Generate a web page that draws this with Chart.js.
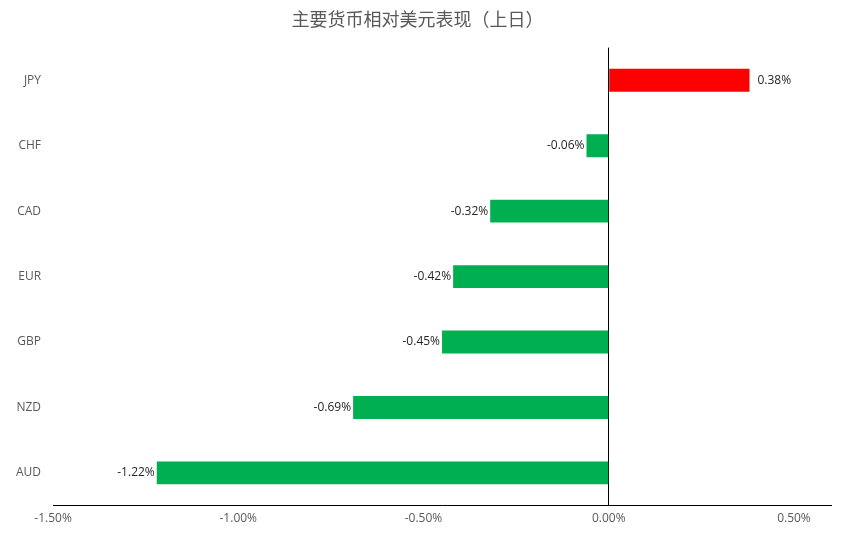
<!DOCTYPE html>
<html><head><meta charset="utf-8">
<script src="https://cdn.jsdelivr.net/npm/chart.js@4"></script>
<style>html,body{margin:0;padding:0;background:#fff}#w{width:864px;height:538px}</style>
</head><body><div id="w"><canvas id="c"></canvas></div>
<script>
const categories = ["JPY","CHF","CAD","EUR","GBP","NZD","AUD"];
const values = [0.38,-0.06,-0.32,-0.42,-0.45,-0.69,-1.22];
const colors = values.map(v => v >= 0 ? "#FF0000" : "#00B050");
const tickValues = [-1.5,-1.0,-0.5,0,0.5];

const labelPlugin = {
  id: "lbl",
  afterDatasetsDraw(chart) {
    const ctx = chart.ctx;
    const meta = chart.getDatasetMeta(0);
    ctx.save();
    ctx.font = "12px 'Open Sans', sans-serif";
    ctx.fillStyle = "#262626";
    ctx.textBaseline = "middle";
    meta.data.forEach((bar, i) => {
      const v = values[i];
      const t = v.toFixed(2) + "%";
      if (v >= 0) { ctx.textAlign = "left"; ctx.fillText(t, bar.x + 8, bar.y); }
      else { ctx.textAlign = "right"; ctx.fillText(t, bar.x - 2, bar.y); }
    });
    ctx.restore();
  }
};

new Chart(document.getElementById("c"), {
  type: "bar",
  data: { labels: categories, datasets: [{ data: values, backgroundColor: colors, barPercentage: 0.35, categoryPercentage: 1 }] },
  plugins: [labelPlugin],
  options: {
    responsive: true, maintainAspectRatio: false, animation: false,
    indexAxis: "y",
    layout: { padding: { top: 4, right: 33, bottom: 6, left: 4 } },
    plugins: {
      legend: { display: false }, tooltip: { enabled: false },
      title: { display: true, text: "主要货币相对美元表现（上日）", color: "#595959",
        font: { family: "'Noto Sans CJK SC', sans-serif", size: 18, weight: "normal" }, padding: { top: 4, bottom: 18 } }
    },
    scales: {
      x: {
        min: -1.5, max: 0.6,
        afterBuildTicks(s) { s.ticks = tickValues.map(v => ({ value: v })); },
        ticks: { callback: v => v.toFixed(2) + "%", color: "#595959", font: { family: "'Open Sans', sans-serif", size: 12 }, padding: 6 },
        grid: { drawTicks: false, color: ctx => ctx.tick && ctx.tick.value === 0 ? "#000" : "rgba(0,0,0,0)", lineWidth: 1 },
        border: { display: true, color: "#000" }
      },
      y: {
        ticks: { color: "#595959", font: { family: "'Open Sans', sans-serif", size: 12 }, padding: 12 },
        grid: { display: false, drawTicks: false },
        border: { display: false }
      }
    }
  }
});
</script></body></html>
